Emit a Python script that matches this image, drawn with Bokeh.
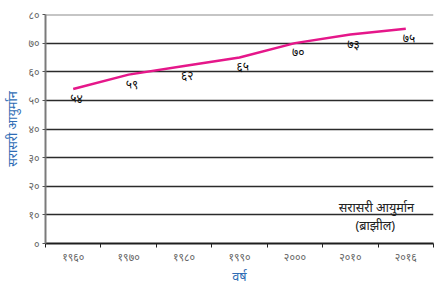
from bokeh.plotting import figure
from bokeh.models import FixedTicker, Span, Label, ColumnDataSource, Range1d
from bokeh.core.properties import value
from bokeh.embed import file_html
from bokeh.resources import INLINE

years = ["१९६०", "१९७०", "१९८०", "१९९०", "२०००", "२०१०", "२०१६"]
life_expectancy = [54, 59, 62, 65, 70, 73, 75]
value_labels = ["५४", "५९", "६२", "६५", "७०", "७३", "७५"]
y_ticks = [0, 10, 20, 30, 40, 50, 60, 70, 80]
y_tick_labels = ["०", "१०", "२०", "३०", "४०", "५०", "६०", "७०", "८०"]

FONT = "Noto Sans"
BLUE = "#2f6db5"

p = figure(width=443, height=287, output_backend="svg", toolbar_location=None,
           x_range=Range1d(0, len(years)), y_range=Range1d(0, 80))
p.min_border_left = 40
p.min_border_right = 10
p.min_border_top = 14
p.min_border_bottom = 44
p.outline_line_color = None
p.background_fill_color = "white"
p.border_fill_color = "white"

xs = [i + 0.5 for i in range(len(years))]
src = ColumnDataSource(dict(x=xs, y=life_expectancy, lab=value_labels))

# grid
p.xgrid.visible = False
p.ygrid.ticker = FixedTicker(ticks=y_ticks[1:-1])
p.ygrid.grid_line_color = "#2b2b2b"
p.ygrid.grid_line_width = 1.3
top_span = Span(location=80, dimension="width", line_color="#8c8c8c", line_width=2)
p.add_layout(top_span)

# x axis
p.xaxis.ticker = FixedTicker(ticks=xs, minor_ticks=list(range(len(years) + 1)))
p.xaxis.major_label_overrides = {x: y for x, y in zip(xs, years)}
p.xaxis.major_tick_line_color = None
p.xaxis.major_tick_out = 0
p.xaxis.major_tick_in = 0
p.xaxis.minor_tick_line_color = "#222222"
p.xaxis.minor_tick_in = 0
p.xaxis.minor_tick_out = 4
p.xaxis.axis_line_color = "#1e1e1e"
p.xaxis.axis_line_width = 2
p.xaxis.major_label_text_color = "#666666"
p.xaxis.major_label_text_font = FONT
p.xaxis.major_label_text_font_size = "8pt"
p.xaxis.major_label_standoff = 2
p.xaxis.axis_label = "वर्ष"
p.xaxis.axis_label_text_color = BLUE
p.xaxis.axis_label_text_font = FONT
p.xaxis.axis_label_text_font_style = "normal"
p.xaxis.axis_label_text_font_size = "9.5pt"
p.xaxis.axis_label_standoff = 0

# y axis
p.yaxis.ticker = FixedTicker(ticks=y_ticks)
p.yaxis.major_label_overrides = {t: l for t, l in zip(y_ticks, y_tick_labels)}
p.yaxis.axis_line_color = "#7a7a7a"
p.yaxis.axis_line_width = 2
p.yaxis.major_tick_line_color = "#555555"
p.yaxis.major_tick_in = 0
p.yaxis.major_tick_out = 3
p.yaxis.minor_tick_line_color = None
p.yaxis.major_label_text_color = "#666666"
p.yaxis.major_label_text_font = FONT
p.yaxis.major_label_text_font_size = "8pt"
p.yaxis.major_label_standoff = 3
p.yaxis.axis_label = "सरासरी आयुर्मान"
p.yaxis.axis_label_text_color = BLUE
p.yaxis.axis_label_text_font = FONT
p.yaxis.axis_label_text_font_style = "normal"
p.yaxis.axis_label_text_font_size = "9.5pt"
p.yaxis.axis_label_standoff = 4

# data line
p.line("x", "y", source=src, line_color="#e5178a", line_width=2.5)
p.text("x", "y", text="lab", source=src, text_font=value(FONT),
       text_font_size="9pt", text_color="#111111", text_align="left",
       text_baseline="top", x_offset=-3, y_offset=1)

# legend-like note
p.add_layout(Label(x=5.97, y=12.6, text="सरासरी आयुर्मान", text_font=FONT,
                   text_font_size="9.5pt", text_color="#222222",
                   text_align="center", text_baseline="middle"))
p.add_layout(Label(x=5.95, y=6.6, text="(ब्राझील)", text_font=FONT,
                   text_font_size="9.5pt", text_color="#222222",
                   text_align="center", text_baseline="middle"))

open("out.html", "w").write(file_html(p, INLINE))
